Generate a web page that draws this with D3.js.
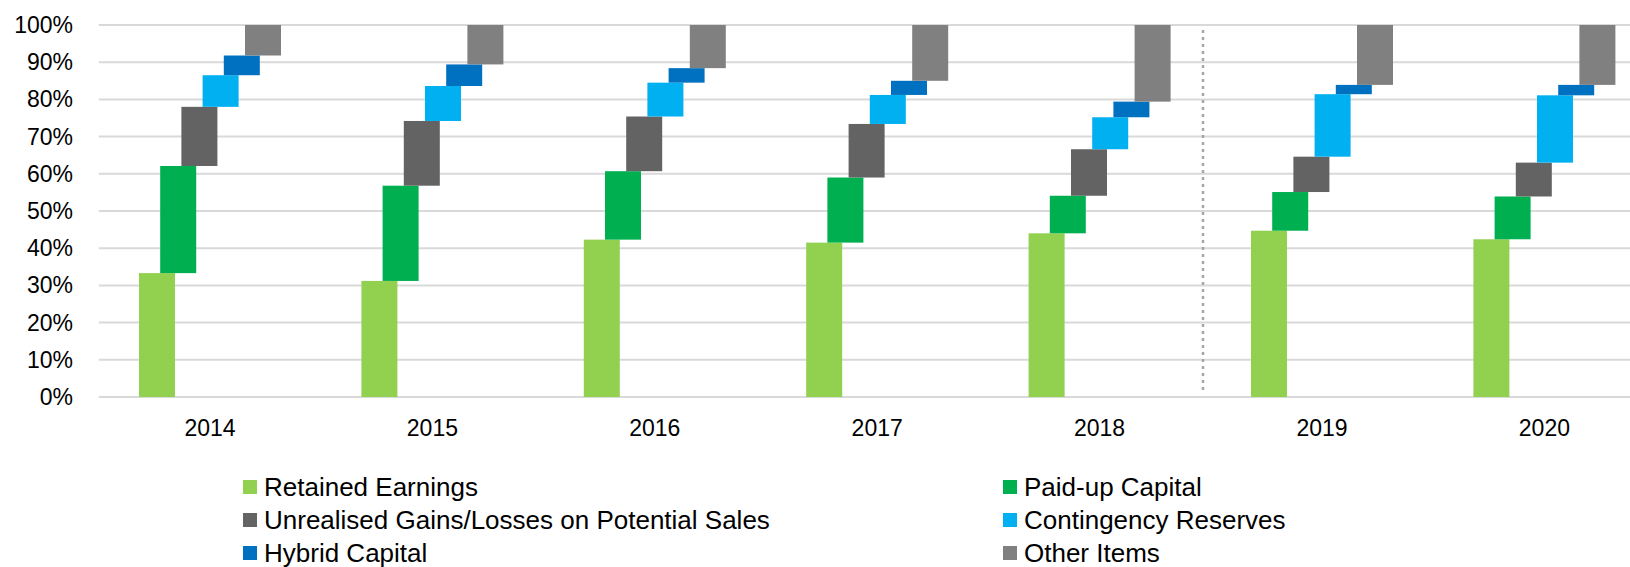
<!DOCTYPE html>
<html>
<head>
<meta charset="utf-8">
<script src="https://cdn.jsdelivr.net/npm/d3@7"></script>
<style>
  html, body { margin: 0; padding: 0; background: #fff; }
  svg { display: block; font-family: "Liberation Sans", Arial, sans-serif; }
</style>
</head>
<body>
<svg id="chart" width="1630" height="567"></svg>
<script>
// values in % of total
let years = ["2014", "2015", "2016", "2017", "2018", "2019", "2020"];
let retainedEarnings    = [33.3, 31.2, 42.3, 41.5, 44.0, 44.7, 42.4];
let paidUpCapital       = [28.8, 25.6, 18.4, 17.5, 10.1, 10.4, 11.5];
let unrealisedGains     = [15.9, 17.4, 14.7, 14.4, 12.5,  9.5,  9.1];
let contingencyReserves = [ 8.5,  9.4,  9.1,  7.8,  8.6, 16.8, 18.1];
let hybridCapital       = [ 5.3,  5.8,  3.9,  3.8,  4.2,  2.5,  2.8];
let otherItems          = [ 8.2, 10.6, 11.6, 15.0, 20.6, 16.1, 16.1];
let yTicks = [0, 10, 20, 30, 40, 50, 60, 70, 80, 90, 100];

let seriesNames = ["Retained Earnings", "Paid-up Capital", "Unrealised Gains/Losses on Potential Sales",
                   "Contingency Reserves", "Hybrid Capital", "Other Items"];
let seriesValues = [retainedEarnings, paidUpCapital, unrealisedGains, contingencyReserves, hybridCapital, otherItems];
let seriesColors = ["#92d050", "#00b050", "#636363", "#00b0f0", "#0070c0", "#808080"];

let table = years.map((y, i) => {
    let row = {year: y};
    seriesNames.forEach((n, k) => row[n] = seriesValues[k][i]);
    return row;
});

let svg = d3.select("#chart");
let left = 98.8, step = 222.4;

let x = d3.scaleBand()
    .domain(years)
    .range([left, left + step * years.length])
    .padding(0);

let y = d3.scaleLinear()
    .domain([0, 100])
    .range([397, 25]);

let barW = 36, groupW = 142;
let sub = d3.scaleLinear()
    .domain([0, seriesNames.length - 1])
    .range([0, groupW - barW]);

// gridlines
svg.append("g")
    .selectAll("line")
    .data(yTicks)
    .enter().append("line")
    .attr("x1", left)
    .attr("x2", 1630)
    .attr("y1", d => y(d))
    .attr("y2", d => y(d))
    .style("stroke", "#d9d9d9")
    .style("stroke-width", "2px");

// y labels
svg.append("g")
    .selectAll("text")
    .data(yTicks)
    .enter().append("text")
    .attr("x", 73)
    .attr("y", d => y(d))
    .attr("dy", "0.35em")
    .attr("text-anchor", "end")
    .style("font-size", "23px")
    .style("fill", "#000")
    .text(d => d + "%");

// divider between actual and forecast
let divX = x("2019") + (x.bandwidth() - groupW) / 2 - 48;
svg.append("line")
    .attr("x1", divX).attr("x2", divX)
    .attr("y1", 30).attr("y2", 392)
    .style("stroke", "#a6a6a6")
    .style("stroke-width", "2.5px")
    .style("stroke-dasharray", "3,4");

// waterfall bars
let stacked = d3.stack().keys(seriesNames)(table);

let groups = svg.append("g")
    .selectAll("g")
    .data(stacked)
    .enter().append("g")
    .style("fill", (d, i) => seriesColors[i]);

groups.each(function(s, k){
    d3.select(this).selectAll("rect")
        .data(s)
        .enter().append("rect")
        .attr("x", d => x(d.data.year) + (x.bandwidth() - groupW) / 2 + sub(k))
        .attr("width", barW)
        .attr("y", d => y(d[1]))
        .attr("height", d => y(d[0]) - y(d[1]));
});

// x labels
svg.append("g")
    .selectAll("text")
    .data(years)
    .enter().append("text")
    .attr("x", d => x(d) + x.bandwidth() / 2)
    .attr("y", 428)
    .attr("dy", "0.35em")
    .attr("text-anchor", "middle")
    .style("font-size", "23px")
    .style("fill", "#000")
    .text(d => d);

// legend, two columns
let colX = [243, 1003];
let rowY = [487, 520, 553];
let legend = svg.append("g")
    .selectAll("g")
    .data(seriesNames)
    .enter().append("g")
    .attr("transform", (d, i) => "translate(" + colX[i % 2] + "," + rowY[Math.floor(i / 2)] + ")");

legend.append("rect")
    .attr("x", 0)
    .attr("y", -7)
    .attr("width", 14)
    .attr("height", 14)
    .style("fill", (d, i) => seriesColors[i]);

legend.append("text")
    .attr("x", 21)
    .attr("dy", "0.35em")
    .style("font-size", "26px")
    .style("fill", "#000")
    .text(d => d);
</script>
</body>
</html>
